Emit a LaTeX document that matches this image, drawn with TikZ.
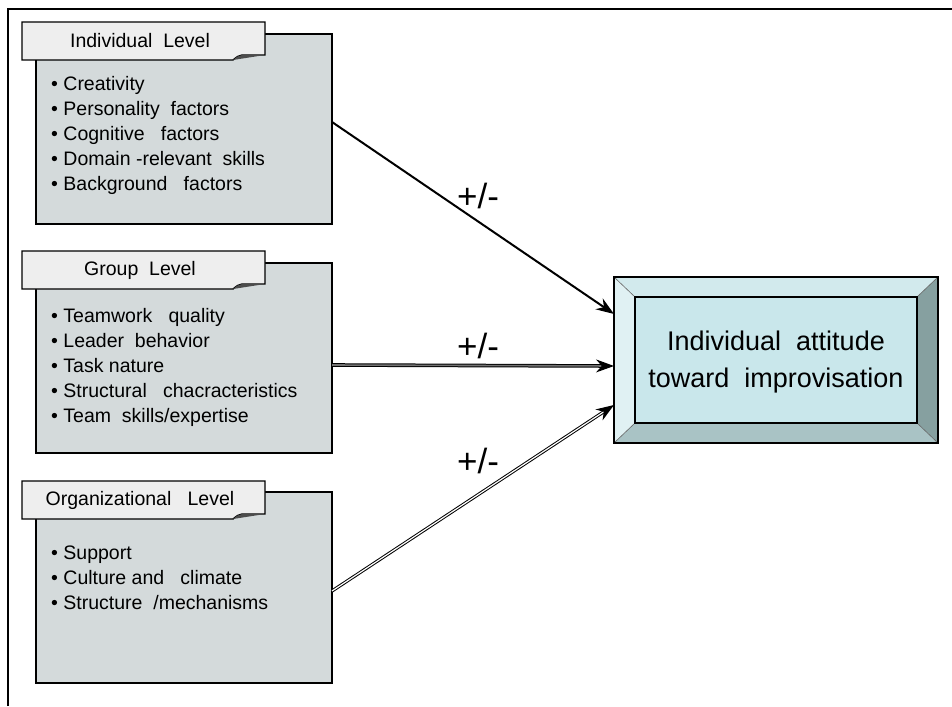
\documentclass[tikz,border=0pt]{standalone}
\usepackage{fontspec}
\setmainfont{Liberation Sans}
\usetikzlibrary{arrows.meta}
\definecolor{boxgray}{HTML}{D4DADB}
\definecolor{tabgray}{HTML}{EEEEEE}
\definecolor{cyaninner}{HTML}{C9E7EB}
\definecolor{bevtop}{HTML}{D2EAED}
\definecolor{bevleft}{HTML}{E0F1F3}
\definecolor{bevright}{HTML}{86A0A0}
\definecolor{bevbottom}{HTML}{A9C3C5}
\begin{document}
\begin{tikzpicture}[x=1pt,y=-1pt,
  levelbox/.style={draw=black,line width=1.2pt,fill=boxgray},
  tabshape/.style={draw=black,line width=1.4pt,fill=tabgray},
  tabtext/.style={font=\fontsize{19.5}{22}\selectfont,anchor=center},
  listtext/.style={font=\fontsize{19.5}{25}\selectfont,align=left,anchor=north west,inner sep=0pt},
  pmlabel/.style={font=\fontsize{35}{38}\selectfont,anchor=center},
  arrowtip/.style={-{Stealth[length=18pt,width=13pt]}}
]
\useasboundingbox (0,0) rectangle (952,706);
% frame
\draw[line width=2pt] (8,706) -- (8,9) -- (952,9);

% level boxes
\draw[levelbox] (36,34) rectangle (332,224);
\draw[levelbox] (36,263) rectangle (332,453);
\draw[levelbox] (36,492) rectangle (332,683);
\node[inner sep=0pt,minimum width=296pt,minimum height=190pt] (ind) at (184,129) {};
\node[inner sep=0pt,minimum width=296pt,minimum height=190pt] (grp) at (184,358) {};
\node[inner sep=0pt,minimum width=296pt,minimum height=191pt] (org) at (184,587.5) {};

% tabs
\foreach \t in {22,251,481}{
  \draw[tabshape] (22,\t) -- (265,\t) -- (265,\t+33) -- (242,\t+33)
     .. controls (238,\t+34) .. (233,\t+38) -- (22,\t+38) -- cycle;
  \fill[black!70] (265,\t+33) -- (242,\t+33) .. controls (238,\t+34) .. (233,\t+38) -- cycle;
}
\node[tabtext] (tab1) at (140,41) {Individual\ \ Level};
\node[tabtext] (tab2) at (140,270) {Group\ \ Level};
\node[tabtext] (tab3) at (140,500) {Organizational\ \ \ Level};

% lists
\node[listtext] (list1) at (51,76) {• Creativity\\ • Personality\ \ factors\\ • Cognitive\ \ \ factors\\ • Domain -relevant\ \ skills\\ • Background\ \ \ factors};
\node[listtext] (list2) at (51,308) {• Teamwork\ \ \ quality\\ • Leader\ \ behavior\\ • Task nature\\ • Structural\ \ \ chacracteristics\\ • Team\ \ skills/expertise};
\node[listtext] (list3) at (51,546) {• Support\\ • Culture and\ \ \ climate\\ • Structure\ \ /mechanisms};

% target bevel box
\fill[bevtop] (614,277) -- (938,277) -- (917,297) -- (635,297) -- cycle;
\fill[bevleft] (614,277) -- (635,297) -- (635,423) -- (614,443) -- cycle;
\fill[bevright] (938,277) -- (938,443) -- (917,423) -- (917,297) -- cycle;
\fill[bevbottom] (614,443) -- (938,443) -- (917,423) -- (635,423) -- cycle;
\draw[black!60,line width=0.6pt] (614,277) -- (635,297) (938,277) -- (917,297) (938,443) -- (917,423) (614,443) -- (635,423);
\draw[line width=1.4pt,fill=cyaninner] (635,297) rectangle (917,423);
\draw[line width=1.6pt] (614,277) rectangle (938,443);
\node[inner sep=0pt,minimum width=324pt,minimum height=166pt] (target) at (776,360) {};
\node[font=\fontsize{27}{37}\selectfont,align=center] (ttext) at (776,362) {Individual\ \ attitude\\ toward\ \ improvisation};

% connectors
\coordinate (s1) at (332,122);
\coordinate (e1) at (614,314);
\coordinate (s2) at (332,365);
\coordinate (e2) at (614,366);
\coordinate (s3) at (332,591);
\coordinate (e3) at (614,405);
\draw[arrowtip,line width=2pt] (s1) -- (e1);
\draw[arrowtip,line width=1pt,double=black!55,double distance=1.6pt] (s2) -- (e2);
\draw[arrowtip,line width=1pt,double=white,double distance=1.2pt] (s3) -- (e3);

\node[pmlabel] (pm1) at (478,196) {+/-};
\node[pmlabel] (pm2) at (478,346) {+/-};
\node[pmlabel] (pm3) at (478,461) {+/-};
\end{tikzpicture}
\end{document}
